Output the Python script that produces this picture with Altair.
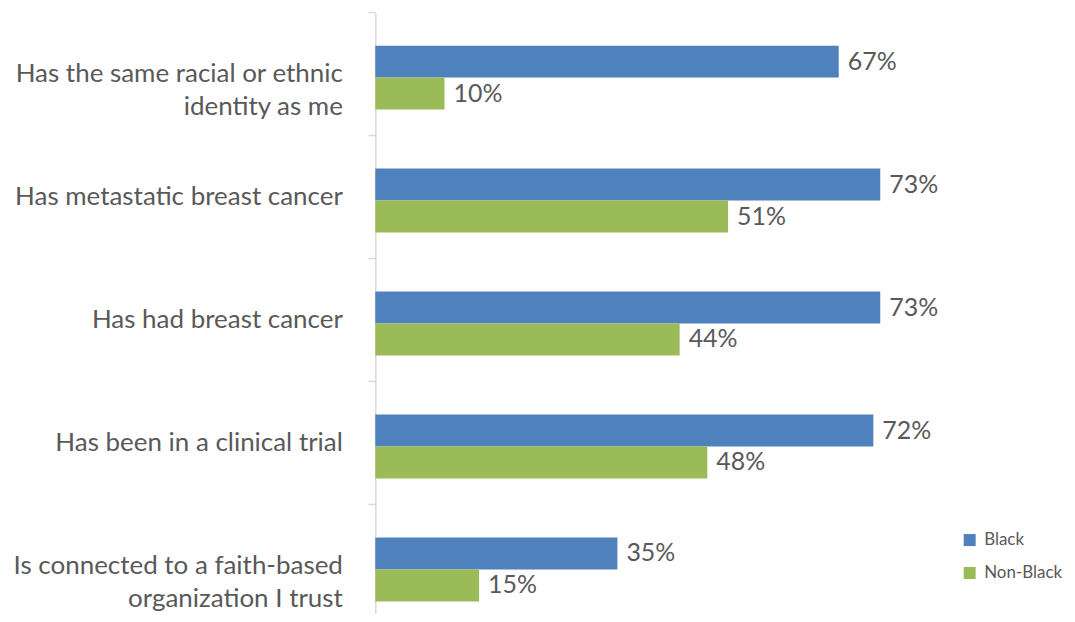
import altair as alt
import pandas as pd

categories = [
    "Has the same racial or ethnic|identity as me",
    "Has metastatic breast cancer",
    "Has had breast cancer",
    "Has been in a clinical trial",
    "Is connected to a faith-based|organization I trust",
]
series = ["Black", "Non-Black"]
black_values = [67, 73, 73, 72, 35]
nonblack_values = [10, 51, 44, 48, 15]
colors = ["#4F81BD", "#9BBB59"]

rows = []
for c, b, n in zip(categories, black_values, nonblack_values):
    rows.append({"category": c, "series": "Black", "value": b})
    rows.append({"category": c, "series": "Non-Black", "value": n})
df = pd.DataFrame(rows)

FONT = "Lato"
TXT = "#595959"
GRID = "#D9D9D9"

yscale = alt.Scale(domain=categories, range=[0, 616], paddingInner=0, paddingOuter=0)
xscale = alt.Scale(domain=[0, 100], nice=False, zero=True)
offscale = alt.Scale(domain=series, paddingInner=0, paddingOuter=0.925, align=0.56)
cscale = alt.Scale(domain=series, range=colors)

yaxis = alt.Axis(title=None, ticks=False, domainColor=GRID, domainWidth=1.5,
                 grid=False,
                 labelFont=FONT, labelFontSize=26, labelColor=TXT,
                 labelPadding=33, labelLineHeight=33, labelLimit=400,
                 labelExpr="split(datum.value, '|')")

base = alt.Chart(df)

bars = base.mark_bar().encode(
    y=alt.Y("category:N", scale=yscale, sort=categories, axis=yaxis),
    yOffset=alt.YOffset("series:N", scale=offscale, sort=series),
    x=alt.X("value:Q", scale=xscale, axis=None),
    color=alt.Color("series:N", scale=cscale, sort=series,
                    legend=alt.Legend(title=None, orient="none", legendX=587, legendY=520,
                                      symbolType="square", symbolSize=144, symbolStrokeWidth=0,
                                      labelFont=FONT, labelFontSize=17, labelColor=TXT,
                                      rowPadding=15, padding=0, labelOffset=6)),
)

labels = base.transform_calculate(lbl="datum.value + '%'").mark_text(
    align="left", baseline="middle", dx=9, font=FONT, fontSize=25, color=TXT
).encode(
    y=alt.Y("category:N", scale=yscale, sort=categories, axis=yaxis),
    yOffset=alt.YOffset("series:N", scale=offscale, sort=series),
    x=alt.X("value:Q", scale=xscale, axis=None),
    text="lbl:N",
)

tick_df = pd.DataFrame({"category": categories})
ticks = alt.Chart(tick_df).mark_rule(color=GRID, strokeWidth=1.5).encode(
    y=alt.Y("category:N", scale=yscale, sort=categories, bandPosition=0, axis=yaxis),
    x=alt.value(-7),
    x2=alt.value(0),
)

chart = (
    alt.layer(bars, labels, ticks)
    .properties(
        width=693, height=602,
        autosize=alt.AutoSizeParams(type="none"),
        padding={"left": 368, "top": 4, "right": 0, "bottom": 0},
        background="white",
    )
    .configure_view(strokeWidth=0, stroke=None)
    .configure_axis(grid=False)
)

chart.save("out.html", embed_options={"renderer": "svg", "actions": False})
